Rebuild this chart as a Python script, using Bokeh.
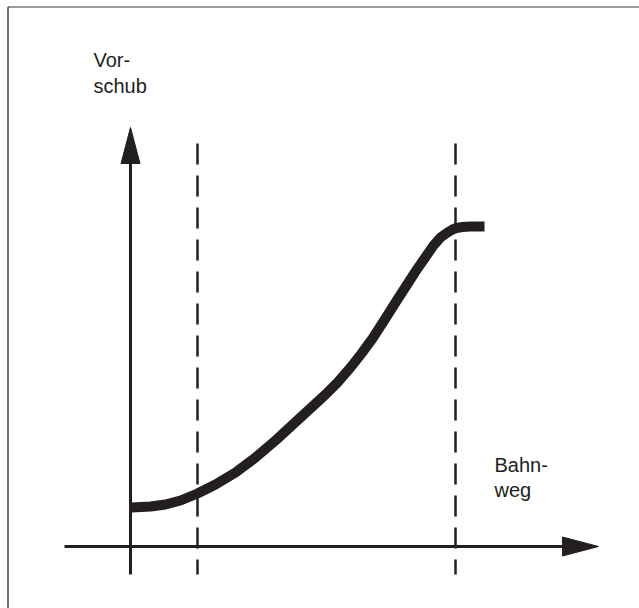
from bokeh.plotting import figure
from bokeh.models import Range1d, ColumnDataSource
from bokeh.core.properties import value
from bokeh.embed import file_html
from bokeh.resources import INLINE

# ---- data (units: path length / feed, origin at the axes crossing) ----
curve_x = [1, 20, 35, 50, 67, 85, 105, 125, 145, 170, 195, 207, 220, 231, 242, 253, 265,
           285, 303, 310, 317, 322, 326, 332, 340, 354]
curve_y = [39, 40, 42, 46, 53, 62, 74, 89, 106, 129, 152, 164, 179, 193, 208, 225, 244,
           275, 301, 309, 314, 317, 318.5, 319.5, 320, 320]
marker_x = [67, 325]          # dashed vertical markers
y_label = ["Vor-", "schub"]
x_label = ["Bahn-", "weg"]

# axis extents
x_axis_min, x_axis_max = -66, 468
y_axis_min, y_axis_max = -28, 419
marker_top = 403
head_len, head_half = 36, 9.5

INK = "#231f20"
FONT = value("Liberation Sans")

p = figure(width=639, height=608, x_range=Range1d(-130, 509), y_range=Range1d(-62, 546),
           toolbar_location=None, output_backend="svg", min_border=0,
           x_axis_type=None, y_axis_type=None, outline_line_color=None,
           background_fill_color="white", border_fill_color="white")
p.grid.visible = False

# frame (top and left edges)
p.line([-122.5, 509], [539.5, 539.5], line_color="#777777", line_width=1.5)
p.line([-122.5, -122.5], [-62, 539.5], line_color="#444444", line_width=1.5)

# dashed markers
for mx in marker_x:
    p.line([mx, mx], [marker_top, y_axis_min], line_color=INK, line_width=2.5, line_dash="21 11")

# axes with arrow heads
p.line([x_axis_min, x_axis_max - head_len], [0, 0], line_color=INK, line_width=3)
p.line([0, 0], [y_axis_min, y_axis_max - head_len], line_color=INK, line_width=3)
p.patch([x_axis_max, x_axis_max - head_len, x_axis_max - head_len],
        [0, head_half, -head_half], fill_color=INK, line_color=INK, line_width=1)
p.patch([0, head_half, -head_half],
        [y_axis_max, y_axis_max - head_len, y_axis_max - head_len], fill_color=INK, line_color=INK, line_width=1)

# feed curve
src = ColumnDataSource(dict(x=curve_x, y=curve_y))
p.line("x", "y", source=src, line_color=INK, line_width=10, line_join="round", line_cap="butt")

# labels
p.text(x=[-37, -37], y=[487, 461], text=y_label, text_font=FONT, text_font_size="20px",
       text_color=INK, text_baseline="alphabetic", text_align="left")
p.text(x=[364, 364], y=[82, 57], text=x_label, text_font=FONT, text_font_size="20px",
       text_color=INK, text_baseline="alphabetic", text_align="left")

open("out.html", "w").write(file_html(p, INLINE))
